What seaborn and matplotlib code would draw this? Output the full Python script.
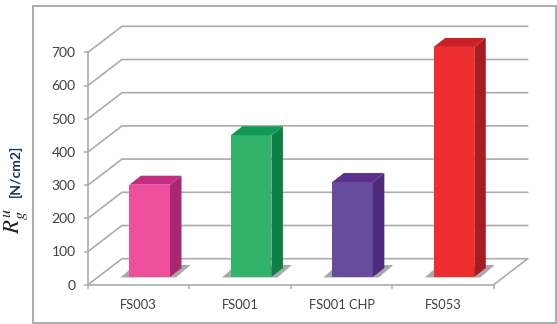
import numpy as np
import pandas as pd
import seaborn as sns
import matplotlib
matplotlib.use("Agg")
import matplotlib.pyplot as plt
from matplotlib.patches import Polygon, Rectangle
from matplotlib.transforms import Affine2D, IdentityTransform

categories = ["FS003", "FS001", "FS001 CHP", "FS053"]
values = [278, 427, 286, 693]
front_colors = ["#EE4F9C", "#31B36B", "#674C9E", "#EE2E2E"]
side_colors = ["#A92670", "#0B7F45", "#4E2A7C", "#A81B20"]
top_colors = ["#C42C84", "#129A52", "#5A2F90", "#CC2026"]
y_ticks = [0, 100, 200, 300, 400, 500, 600, 700]

W, H = 557, 324
GREY = "#A9ADAD"
TEXT = "#404040"

sns.set_theme(style="white")
plt.rcParams["font.family"] = ["Lato", "DejaVu Sans"]

fig = plt.figure(figsize=(W / 100, H / 100), dpi=100)
# axes = front plane of the fake 3d box, pixel placement
ax = fig.add_axes([88 / W, (H - 284.7) / H, (493.7 - 88) / W, (284.7 - 52.3) / H])
fig.add_artist(Rectangle((32.7 / W, (H - 322.5) / H), (556 - 32.7) / W, (322.5 - 6) / H,
                         transform=fig.transFigure, fill=False, ec=GREY, lw=1.4))

df = pd.DataFrame({"sample": categories, "value": values})
sns.barplot(data=df, x="sample", y="value", hue="sample", palette=front_colors,
            legend=False, width=0.4, saturation=1, linewidth=0, ax=ax, zorder=5)
ax.set_xlim(-0.5, 3.5)
ax.set_ylim(0, 700)

to_px = ax.transData.transform
px = IdentityTransform()
DEPTH = (34, 26)  # box depth in pixels
BAR_SHIFT = (11, 7.7)  # bars stand a bit behind the front plane
BAR_DEPTH = (11.5, 9)

# back wall and the diagonals
for v in y_ticks:
    x0, y0 = to_px((-0.5, v))
    x1, y1 = to_px((3.5, v))
    ax.plot([x0, x0 + DEPTH[0], x1 + DEPTH[0]], [y0, y0 + DEPTH[1], y1 + DEPTH[1]],
            transform=px, color=GREY, lw=1.2, clip_on=False, zorder=1)
x1, y1 = to_px((3.5, 0))
ax.plot([x1, x1 + DEPTH[0]], [y1, y1 + DEPTH[1]], transform=px, color=GREY, lw=1.2,
        clip_on=False, zorder=1)

# move the bars back and add shadow, side and top faces
shift = ax.transData + Affine2D().translate(*BAR_SHIFT)
for bar, side, top in zip(ax.patches, side_colors, top_colors):
    bar.set_transform(shift)
    bar.set_clip_on(False)
    (L, B), (R, T) = shift.transform([(bar.get_x(), 0), (bar.get_x() + bar.get_width(), bar.get_height())])
    dx, dy = BAR_DEPTH
    ax.add_patch(Polygon([(L - 9, B - 0.5), (L + 2, B + 9), (R + dx, B + 12), (R + dx + 9, B + 12), (R + 6, B - 0.5)],
                         transform=px, fc="#A8AAAA", ec="none", clip_on=False, zorder=3))
    ax.add_patch(Polygon([(R, B), (R + dx, B + dy), (R + dx, T + dy), (R, T)],
                         transform=px, fc=side, ec="none", clip_on=False, zorder=5))
    ax.add_patch(Polygon([(L, T), (L + dx, T + dy), (R + dx, T + dy), (R, T)],
                         transform=px, fc=top, ec="none", clip_on=False, zorder=5))

for name in ["top", "right"]:
    ax.spines[name].set_visible(False)
for name in ["left", "bottom"]:
    ax.spines[name].set_color(GREY)
    ax.spines[name].set_linewidth(1.2)

ax.set_yticks(y_ticks)
ax.set_xticks(np.arange(-0.5, 4), minor=False)
ax.set_xticklabels([])
ax.set_xticks(range(len(categories)), categories, minor=True)
ax.tick_params(axis="x", which="major", length=3, width=1.1, color=GREY, direction="out", bottom=True)
ax.tick_params(axis="x", which="minor", length=0, labelsize=9.3, labelcolor=TEXT, pad=10.5)
ax.tick_params(axis="y", length=3, width=1.1, color=GREY, labelsize=10, labelcolor=TEXT, pad=6, left=True)
ax.set_xlabel("")
ax.set_ylabel("")

fig.text(17 / W, (H - 221) / H, r"$R_g^u$", rotation=90, ha="center", va="center",
         fontsize=16.5, math_fontfamily="stix", color="#222222")
fig.text(15.5 / W, (H - 171) / H, "[N/cm2]", rotation=90, ha="center", va="center",
         fontsize=10, fontweight="bold", color="#17365D")

fig.savefig("out.png", dpi=100)
